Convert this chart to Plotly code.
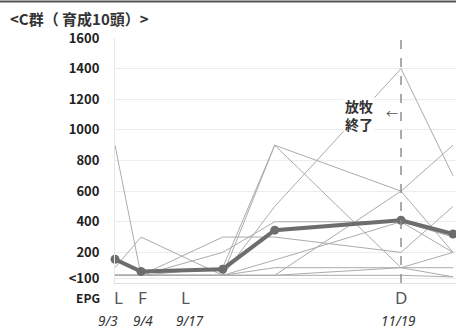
import plotly.graph_objects as go

# ---- data ----
sample_days = [0, 7, 29, 43, 77, 91]          # days after 9/3
mean_epg = [155, 75, 90, 345, 410, 320]

cow1 = [900, 50, 50, 100, 100, 100]
cow2 = [100, 300, 50, 900, 600, 900]
cow3 = [50, 50, 300, 300, 200, 500]
cow4 = [50, 50, 200, 400, 400, 200]
cow5 = [50, 50, 50, 500, 1400, 700]
cow6 = [50, 50, 100, 900, 100, 40]
cow7 = [50, 50, 50, 50, 600, 200]
cow8 = [50, 50, 50, 150, 400, 300]
cow9 = [50, 50, 50, 50, 100, 200]
cow10 = [50, 50, 50, 50, 50, 40]
cows = [cow1, cow2, cow3, cow4, cow5, cow6, cow7, cow8, cow9, cow10]

y_tickvals = [30, 200, 400, 600, 800, 1000, 1200, 1400, 1600]
y_ticktext = ["<100", "200", "400", "600", "800", "1000", "1200", "1400", "1600"]

event_letters = ["L", "F", "L", "D"]
event_days = [1, 7.3, 19, 77]
date_labels = ["9/3", "9/4", "9/17", "11/19"]
date_days = [-1.9, 7.6, 20.3, 76.2]
grazing_end_day = 77
x_max = 91.8

title_text = "<C群（ 育成10頭）>"

JP = "Noto Sans CJK JP"

fig = go.Figure()
for c in cows:
    fig.add_trace(go.Scatter(x=sample_days, y=c, mode="lines",
                             line=dict(color="#ababab", width=1),
                             showlegend=False, hoverinfo="skip"))
fig.add_trace(go.Scatter(x=sample_days, y=mean_epg, mode="lines+markers",
                         line=dict(color="#6d6d6d", width=4),
                         marker=dict(color="#6d6d6d", size=9),
                         cliponaxis=False, showlegend=False))

fig.add_vline(x=grazing_end_day, line=dict(color="#8f8f8f", width=1.5, dash="dash"))
fig.add_shape(type="line", xref="paper", yref="paper", x0=-0.34, x1=1.0, y0=1.149, y1=1.149,
              line=dict(color="#555555", width=2))

ann = []
for t, d in zip(event_letters, event_days):
    ann.append(dict(x=d / x_max, y=-0.061, xref="paper", yref="paper", text=t, showarrow=False,
                    font=dict(family="Noto Sans", size=17, color="#555555"),
                    xanchor="center", yanchor="middle"))
ann.append(dict(x=-0.08, y=-0.061, xref="paper", yref="paper", text="EPG", showarrow=False,
                font=dict(family=JP, size=12, color="#222222", weight="bold"),
                xanchor="center", yanchor="middle"))
for t, d in zip(date_labels, date_days):
    ann.append(dict(x=d / x_max, y=-0.157, xref="paper", yref="paper", text="<i>" + t + "</i>",
                    showarrow=False,
                    font=dict(family="Noto Sans", size=13.5, color="#333333"),
                    xanchor="center", yanchor="middle"))
ann.append(dict(x=65.8, y=1100, xref="x", yref="y", text="放牧<br>終了",
                showarrow=False, align="left", bgcolor="white", borderpad=1,
                font=dict(family=JP, size=14, color="#333333", weight="bold"),
                xanchor="center", yanchor="middle"))
ann.append(dict(x=74.6, y=1110, xref="x", yref="y", text="←",
                showarrow=False, font=dict(family=JP, size=12, color="#555555"),
                xanchor="center", yanchor="middle"))
ann.append(dict(x=-0.313, y=1.078, xref="paper", yref="paper", text=title_text,
                showarrow=False, font=dict(family=JP, size=15, color="#333333", weight="bold"),
                xanchor="left", yanchor="middle"))

fig.update_layout(
    width=456, height=329,
    margin=dict(l=115, r=0, t=38, b=46),
    paper_bgcolor="white", plot_bgcolor="white",
    annotations=ann,
    xaxis=dict(range=[0, x_max], showticklabels=False, showgrid=False, zeroline=False,
               showline=True, linecolor="#e0e0e0", linewidth=1),
    yaxis=dict(range=[0, 1600], tickvals=y_tickvals, ticktext=y_ticktext,
               showgrid=True, gridcolor="#ececec", gridwidth=1, zeroline=False,
               showline=True, linecolor="#e6e6e6",
               ticks="outside", ticklen=12, tickcolor="rgba(0,0,0,0)",
               tickfont=dict(family=JP, size=13, color="#222222", weight="bold")),
)

fig.write_html("out.html", config={"displayModeBar": False},
               post_script="document.body.style.margin='0';document.body.style.padding='0';")
